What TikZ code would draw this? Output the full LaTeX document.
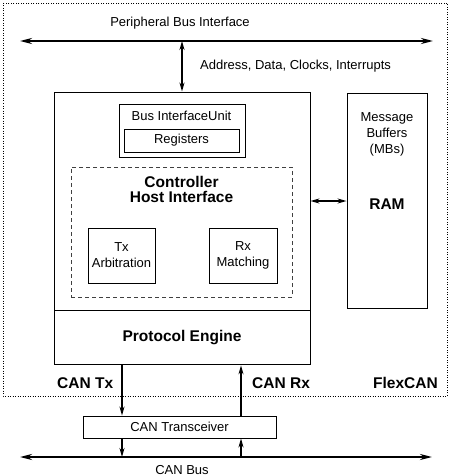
\documentclass[tikz,border=0pt]{standalone}
\usepackage{fontspec}
\setmainfont{Liberation Sans}
\usetikzlibrary{arrows.meta}

\begin{document}
\begin{tikzpicture}[x=1pt, y=-1pt, >=Stealth,
  blk/.style={draw, line width=0.9pt, inner sep=0pt},
  txt/.style={font=\fontsize{13}{16}\selectfont},
  btxt/.style={font=\fontsize{15.5}{15}\selectfont\bfseries},
  bus/.style={{Stealth[length=12pt,width=6pt]}-{Stealth[length=12pt,width=6pt]}, line width=2pt},
  sig/.style={-{Stealth[length=9pt,width=5pt]}, line width=1.3pt},
  dsig/.style={{Stealth[length=9pt,width=5pt]}-{Stealth[length=9pt,width=5pt]}, line width=1.5pt}]

  \useasboundingbox (0,0) rectangle (457,476);

  % --- FlexCAN frame ---
  \draw[line width=0.8pt, dash pattern=on 1pt off 1.5pt] (3,3) rectangle (447,396);
  \node[btxt, inner sep=0, anchor=base east] (flex) at (438,388) {FlexCAN};

  % --- peripheral bus ---
  \coordinate (pbL) at (20,41);
  \coordinate (pbR) at (433,41);
  \draw[bus] (pbL) -- (pbR);
  \node[txt, inner sep=0, anchor=base] (pbtxt) at (180,27) {Peripheral Bus Interface};

  % --- host side and protocol engine ---
  \node[blk, minimum width=256, minimum height=218] (host) at (182,201) {};
  \node[blk, btxt, minimum width=256, minimum height=54, anchor=north] (pe) at (host.south) {Protocol Engine};
  \draw[dsig] (host.north) -- (host.north |- pbL);
  \node[txt, inner sep=0, anchor=base west] (adtxt) at (200,70) {Address, Data, Clocks, Interrupts};

  % bus interface unit
  \node[blk, minimum width=126, minimum height=53] (biu) at (182,130.5) {};
  \node[txt, inner sep=0, anchor=base] (biutxt) at (181.5,121) {Bus InterfaceUnit};
  \node[blk, txt, minimum width=115, minimum height=23] (regs) at (181.5,140.5) {Registers};

  % controller host interface (dashed)
  \node[draw=black!75, line width=0.9pt, dash pattern=on 4pt off 3pt,
        minimum width=221, minimum height=130] (chi) at (181.5,232) {};
  \node[btxt, align=center, inner sep=0] (chitxt) at (181.5,189.5) {Controller\\Host Interface};
  \node[blk, txt, align=center, minimum width=67, minimum height=55] (tx) at (121.5,255.5) {Tx\\Arbitration};
  \node[blk, txt, align=center, minimum width=68, minimum height=55] (rx) at (243,255.5) {Rx\\Matching};

  % --- message buffer RAM ---
  \node[blk, minimum width=80, minimum height=215] (ram) at (387,200.5) {};
  \node[txt, align=center, inner sep=0] (mbtxt) at (387,134) {Message\\Buffers\\(MBs)};
  \node[btxt, inner sep=0, anchor=base] (ramtxt) at (387,209) {RAM};
  \draw[dsig] (host.east) -- (host.east -| ram.west);

  % --- transceiver and CAN bus ---
  \node[blk, txt, minimum width=193, minimum height=22] (xcvr) at (179.5,427) {CAN Transceiver};
  \coordinate (cbL) at (20,457);
  \coordinate (cbR) at (432,457);
  \draw[bus] (cbL) -- (cbR);
  \node[txt, inner sep=0, anchor=base] (cbtxt) at (182,474) {CAN Bus};

  \coordinate (txX) at (122,0);
  \coordinate (rxX) at (241,0);
  \draw[sig] (pe.south -| txX) -- (xcvr.north -| txX);
  \draw[sig] (xcvr.south -| txX) -- (cbL -| txX);
  \draw[sig] (xcvr.north -| rxX) -- (pe.south -| rxX);
  \draw[sig] (cbL -| rxX) -- (xcvr.south -| rxX);
  \node[btxt, inner sep=0, anchor=base west] (cantx) at (57,388) {CAN Tx};
  \node[btxt, inner sep=0, anchor=base west] (canrx) at (252,388) {CAN Rx};

\end{tikzpicture}
\end{document}
